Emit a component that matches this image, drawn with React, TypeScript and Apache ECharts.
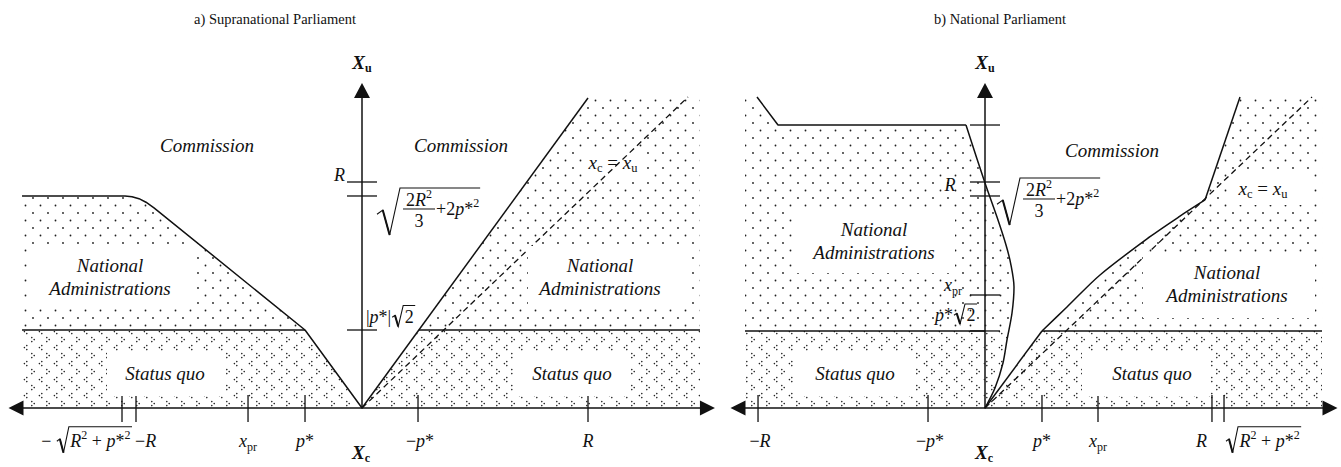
import React, { useEffect, useRef } from 'react';
import * as echarts from 'echarts';

type Pt = [number, number];
type Tok = [string, string];

const SERIF = '"Liberation Serif", "Times New Roman", Times, serif';
const INK = '#111111';
const UNIT = 57.1; // pixels per |p*| on both axes

// ---------- a) Supranational Parliament (x_c across, x_u up, in units of |p*|) ----------
const aLevel = 1.366; // |p*|√2
const aLeftEdge = -5.954;
const aRightEdge = 5.919;
const aTop = 5.43;
const aPlateau: Pt[] = [[-5.954, 3.713], [-4.151, 3.713]];
const aBend: Pt[] = [[-4.151, 3.713], [-4.028, 3.701], [-3.905, 3.666], [-3.783, 3.604], [-3.643, 3.506], [-0.998, 1.366], [0, 0]];
const aCommissionRay: Pt[] = [[0, 0], [3.958, 5.43]];
const aDiagonal: Pt[] = [[0, 0], [5.71, 5.447]];
const aXTicks = [-4.203, -3.958, -1.996, -0.998, 0.981, 3.958];
const aYTicks = [3.958, 3.713, 1.366];

// ---------- b) National Parliament ----------
const bLevel = 1.349; // p*√2
const bLeftEdge = -4.203;
const bRightEdge = 5.902;
const bTop = 5.447;
const bNationalTop: Pt[] = [[-3.993, 5.447], [-3.625, 4.956], [-0.333, 4.956]];
const bNationalBulge: Pt[] = [[-0.333, 4.956], [0, 3.94], [0.21, 3.345], [0.368, 2.855], [0.455, 2.504], [0.508, 2.119], [0.473, 1.664], [0.385, 1.191], [0.315, 0.788], [0.175, 0.35], [0, 0]];
const bCommissionLow: Pt[] = [[0, 0], [0.998, 1.349]];
const bCommissionCurve: Pt[] = [[0.998, 1.349], [1.436, 1.769], [2.014, 2.33], [2.89, 3.0], [3.415, 3.36], [3.853, 3.643]];
const bCommissionHigh: Pt[] = [[3.853, 3.643], [4.466, 5.447]];
const bDiagonal: Pt[] = [[0, 0], [5.727, 5.447]];
const bXTicks = [-3.975, -0.998, 0.998, 1.979, 3.975, 4.186];
const bYTicks = [4.956, 3.958, 3.713, 1.979, 1.349];

// ---------- tick label texts ----------
const R2P2: Tok[] = [['i', 'R'], ['sup', '2'], ['r', ' + '], ['i', 'p'], ['r', '*'], ['sup', '2']];
const aXTickLabels: any[] = [
  { prefix: [['r', '− ']], root: R2P2 },
  { text: [['r', '−'], ['i', 'R']] },
  { text: [['i', 'x'], ['sub', 'pr']] },
  { text: [['i', 'p'], ['r', '*']] },
  { text: [['r', '−'], ['i', 'p'], ['r', '*']] },
  { text: [['i', 'R']] },
];
const aYTickLabels: any[] = [
  { text: [['i', 'R']] },
  { frac: true },
  { prefix: [['r', '|'], ['i', 'p'], ['r', '*|']], root: [['r', '2']] },
];
const bXTickLabels: any[] = [
  { text: [['r', '−'], ['i', 'R']] },
  { text: [['r', '−'], ['i', 'p'], ['r', '*']] },
  { text: [['i', 'p'], ['r', '*']] },
  { text: [['i', 'x'], ['sub', 'pr']] },
  { text: [['i', 'R']] },
  { root: R2P2 },
];
const bYTickLabels: any[] = [
  null,
  { text: [['i', 'R']] },
  { frac: true },
  { text: [['i', 'x'], ['sub', 'pr']] },
  { prefix: [['i', 'p'], ['r', '*']], root: [['r', '2']] },
];

// ---------- label placement (pixel offsets from the tick) ----------
const aXPlace = [
  { align: 'right', dx: 10, dy: 33 },
  { align: 'left', dx: -1, dy: 33 },
  { align: 'center', dx: 0, dy: 33 },
  { align: 'center', dx: 0, dy: 33 },
  { align: 'center', dx: 2, dy: 33 },
  { align: 'center', dx: 0, dy: 33 },
];
const aYPlace = [
  { align: 'right', dx: -17, dy: -7 },
  { align: 'left', dx: 38, dy: -8 },
  { align: 'left', dx: 4, dy: -13, rootSize: [11, 21] },
];
const bXPlace = [
  { align: 'center', dx: 2, dy: 33 },
  { align: 'center', dx: 2, dy: 33 },
  { align: 'center', dx: 0, dy: 33 },
  { align: 'center', dx: 0, dy: 33 },
  { align: 'right', dx: -5, dy: 33 },
  { align: 'left', dx: 2, dy: 33 },
];
const bYPlace = [
  null,
  { align: 'center', dx: -35, dy: 3 },
  { align: 'left', dx: 35, dy: -18 },
  { align: 'right', dx: -23, dy: -10 },
  { align: 'right', dx: -8, dy: -16, rootSize: [11, 20] },
];

const PANELS = [
  { ox: 362, oy: 408, xMin: -6.06, xMax: 6.05, yMax: 5.56, title: 'a) Supranational Parliament', titleX: 275 },
  { ox: 985, oy: 408, xMin: -4.326, xMax: 6.042, yMax: 5.56, title: 'b) National Parliament', titleX: 1000 },
];

const RICH: any = {
  r: { fontFamily: SERIF, fontSize: 18, lineHeight: 24, fill: INK },
  i: { fontFamily: SERIF, fontSize: 18, fontStyle: 'italic', lineHeight: 24, fill: INK },
  sub: { fontFamily: SERIF, fontSize: 12, verticalAlign: 'bottom', fill: INK },
  sup: { fontFamily: SERIF, fontSize: 12, verticalAlign: 'top', fill: INK },
  bx: { fontFamily: SERIF, fontSize: 19, fontStyle: 'italic', fontWeight: 'bold', lineHeight: 24, fill: INK },
  bsub: { fontFamily: SERIF, fontSize: 12, fontWeight: 'bold', verticalAlign: 'bottom', fill: INK },
  li: { fontFamily: SERIF, fontSize: 19, fontStyle: 'italic', lineHeight: 24, fill: INK },
  lr: { fontFamily: SERIF, fontSize: 19, lineHeight: 24, fill: INK },
  lsub: { fontFamily: SERIF, fontSize: 12.5, verticalAlign: 'bottom', fill: INK },
};

let measureCtx: CanvasRenderingContext2D | null = null;
function measure(tokens: Tok[]): number {
  if (!measureCtx) measureCtx = document.createElement('canvas').getContext('2d');
  let w = 0;
  for (const [s, t] of tokens) {
    const st = RICH[s];
    measureCtx!.font = `${st.fontStyle || 'normal'} ${st.fontWeight || 'normal'} ${st.fontSize}px ${st.fontFamily}`;
    w += measureCtx!.measureText(t).width;
  }
  return w;
}

function txt(tokens: Tok[], x: number, y: number, align: string, z?: number) {
  const el: any = {
    type: 'text',
    x,
    y,
    silent: true,
    style: {
      text: tokens.map(([s, t]) => `{${s}|${t}}`).join(''),
      rich: RICH,
      fill: INK,
      fontFamily: SERIF,
      fontSize: 18,
      align,
      verticalAlign: 'middle',
      textAlign: align,
      textVerticalAlign: 'middle',
    },
  };
  if (z != null) el.z = z;
  return el;
}

function radical(x: number, top: number, w: number, h: number, len: number) {
  return [
    {
      type: 'polyline',
      shape: { points: [[x, top + 0.56 * h], [x + 0.25 * w, top + 0.47 * h], [x + 0.55 * w, top + h], [x + w, top], [x + len, top]] },
      style: { stroke: INK, lineWidth: 1.1, fill: 'none' },
    },
    {
      type: 'line',
      shape: { x1: x + 0.25 * w, y1: top + 0.47 * h, x2: x + 0.55 * w, y2: top + h },
      style: { stroke: INK, lineWidth: 2, fill: 'none' },
    },
  ];
}

function fracLabel(ox: number, oy: number) {
  const num: Tok[] = [['r', '2'], ['i', 'R'], ['sup', '2']];
  const tail: Tok[] = [['r', '+2'], ['i', 'p'], ['r', '*'], ['sup', '2']];
  const len = 36 + measure(tail) + 1;
  return [
    ...radical(ox - 23, oy, 23, 47, 23 + len),
    txt(num, ox + 19, oy + 12, 'center'),
    { type: 'line', shape: { x1: ox + 3, y1: oy + 21, x2: ox + 35, y2: oy + 21 }, style: { stroke: INK, lineWidth: 1, fill: 'none' } },
    txt([['r', '3']], ox + 19, oy + 33, 'center'),
    txt(tail, ox + 36, oy + 21, 'left'),
  ];
}

function buildLabel(lab: any, pl: any, ax: number, ay: number): any[] {
  if (!lab || !pl) return [];
  const cx = ax + pl.dx;
  const cy = ay + pl.dy;
  if (lab.frac) return fracLabel(cx, cy);
  if (lab.text) return [txt(lab.text, cx, cy, pl.align)];
  const [rw, rh] = pl.rootSize || [12, 26];
  const preW = lab.prefix ? measure(lab.prefix) + 1 : 0;
  const inW = measure(lab.root);
  const total = preW + rw + inW + 3;
  const x0 = pl.align === 'left' ? cx : pl.align === 'right' ? cx - total : cx - total / 2;
  const els: any[] = [];
  if (lab.prefix) els.push(txt(lab.prefix, x0, cy, 'left'));
  const rx = x0 + preW;
  els.push(...radical(rx, cy - rh * 0.55, rw, rh, rw + inW + 3));
  els.push(txt(lab.root, rx + rw + 1.5, cy, 'left'));
  return els;
}

function crossAt(curve: Pt[], level: number): Pt {
  for (let k = 0; k < curve.length - 1; k++) {
    const [x0, y0] = curve[k];
    const [x1, y1] = curve[k + 1];
    if ((y0 - level) * (y1 - level) <= 0 && y0 !== y1) {
      const t = (level - y0) / (y1 - y0);
      return [x0 + t * (x1 - x0), level];
    }
  }
  return curve[curve.length - 1];
}

function makeTile(w: number, h: number, draw: (g: CanvasRenderingContext2D) => void) {
  const c = document.createElement('canvas');
  c.width = w;
  c.height = h;
  draw(c.getContext('2d')!);
  return { image: c.toDataURL(), repeat: 'repeat', imageWidth: w, imageHeight: h };
}

function dot(g: CanvasRenderingContext2D, x: number, y: number, r: number) {
  g.beginPath();
  g.arc(x, y, r, 0, Math.PI * 2);
  g.fill();
}

function buildOption() {
  const dots = makeTile(15, 15, (g) => {
    g.fillStyle = '#1e1e1e';
    dot(g, 3, 3, 0.9);
    dot(g, 10.5, 10.5, 0.9);
  });
  const chevrons = makeTile(15, 16, (g) => {
    g.fillStyle = '#222';
    // ">" then "<" on the next row
    dot(g, 1.8, 1.6, 0.8);
    dot(g, 4.2, 3.6, 0.8);
    dot(g, 1.8, 5.6, 0.8);
    dot(g, 11.8, 9.6, 0.8);
    dot(g, 9.4, 11.6, 0.8);
    dot(g, 11.8, 13.6, 0.8);
  });

  // regions of panel a
  const aCross = crossAt(aCommissionRay, aLevel);
  const aBendCross = crossAt(aBend, aLevel);
  const aRegions = [
    { fill: dots, pts: [[aLeftEdge, aLevel], ...aPlateau, ...aBend.slice(1).filter((p) => p[1] >= aLevel)] },
    { fill: chevrons, pts: [[aLeftEdge, 0], [aLeftEdge, aLevel], ...aBend.filter((p) => p[1] <= aLevel)] },
    { fill: dots, pts: [aCross, aCommissionRay[1], [aRightEdge, aTop], [aRightEdge, aLevel]] },
    { fill: chevrons, pts: [[0, 0], aCross, [aRightEdge, aLevel], [aRightEdge, 0]] },
  ];
  // regions of panel b
  const bCross = crossAt(bNationalBulge, bLevel);
  const bRegions = [
    {
      fill: dots,
      pts: [[bLeftEdge, bLevel], [bLeftEdge, bTop], ...bNationalTop, ...bNationalBulge.slice(1).filter((p) => p[1] >= bLevel), bCross],
    },
    { fill: chevrons, pts: [[bLeftEdge, 0], [bLeftEdge, bLevel], bCross, ...bNationalBulge.filter((p) => p[1] < bLevel)] },
    { fill: dots, pts: [...bCommissionCurve, bCommissionHigh[1], [bRightEdge, bTop], [bRightEdge, bLevel]] },
    { fill: chevrons, pts: [[0, 0], bCommissionLow[1], [bRightEdge, bLevel], [bRightEdge, 0]] },
  ];

  const regionSeries = (grid: number, regions: any[]) => ({
    type: 'custom',
    coordinateSystem: 'cartesian2d',
    xAxisIndex: grid,
    yAxisIndex: grid,
    z: 1,
    silent: true,
    clip: false,
    data: regions.map((_, k) => [0, 0, k]),
    renderItem: (params: any, api: any) => {
      const r = regions[params.dataIndex];
      return {
        type: 'polygon',
        shape: { points: r.pts.map((p: Pt) => api.coord(p)) },
        style: { fill: r.fill, stroke: 'none' },
      };
    },
  });

  const path = (grid: number, data: Pt[], opts: any = {}) => ({
    type: 'line',
    xAxisIndex: grid,
    yAxisIndex: grid,
    data,
    symbol: 'none',
    showSymbol: false,
    silent: true,
    z: 3,
    smooth: opts.smooth || false,
    lineStyle: { color: INK, width: opts.width || 1.5, type: opts.dashed ? [6, 4] : 'solid' },
    emphasis: { disabled: true },
  });

  const tickSeries = (grid: number, dir: 'x' | 'y', ticks: number[], labels: any[], places: any[]) => ({
    type: 'custom',
    coordinateSystem: 'cartesian2d',
    xAxisIndex: grid,
    yAxisIndex: grid,
    z: 4,
    silent: true,
    clip: false,
    data: ticks.map((v) => (dir === 'x' ? [v, 0] : [0, v])),
    renderItem: (params: any, api: any) => {
      const i = params.dataIndex;
      const p = api.coord([api.value(0), api.value(1)]);
      const mark =
        dir === 'x'
          ? { type: 'line', shape: { x1: p[0], y1: p[1] - 13, x2: p[0], y2: p[1] + 14 }, style: { stroke: INK, lineWidth: 1.3, fill: 'none' } }
          : { type: 'line', shape: { x1: p[0] - 15, y1: p[1], x2: p[0] + 15, y2: p[1] }, style: { stroke: INK, lineWidth: 1.3, fill: 'none' } };
      return { type: 'group', children: [mark, ...buildLabel(labels[i], places[i], p[0], p[1])] };
    },
  });

  const series: any[] = [
    regionSeries(0, aRegions),
    regionSeries(1, bRegions),
    // panel a frontiers
    path(0, aPlateau),
    path(0, aBend),
    path(0, aCommissionRay),
    path(0, aDiagonal, { dashed: true, width: 1.3 }),
    path(0, [[aLeftEdge, aLevel], aBendCross]),
    path(0, [aCross, [aRightEdge, aLevel]]),
    // panel b frontiers
    path(1, bNationalTop),
    path(1, bNationalBulge, { smooth: 0.3 }),
    path(1, bCommissionLow),
    path(1, bCommissionCurve, { smooth: 0.3 }),
    path(1, bCommissionHigh),
    path(1, bDiagonal, { dashed: true, width: 1.3 }),
    path(1, [[bLeftEdge, bLevel], [0, bLevel]]),
    path(1, [bCommissionLow[1], [bRightEdge, bLevel]]),
    // ticks and their labels
    tickSeries(0, 'x', aXTicks, aXTickLabels, aXPlace),
    tickSeries(0, 'y', aYTicks, aYTickLabels, aYPlace),
    tickSeries(1, 'x', bXTicks, bXTickLabels, bXPlace),
    tickSeries(1, 'y', bYTicks, bYTickLabels, bYPlace),
  ];

  // free-standing annotations
  const regionFont = { fontFamily: SERIF, fontSize: 19, fontStyle: 'italic', fill: INK, align: 'center', verticalAlign: 'middle', textAlign: 'center', textVerticalAlign: 'middle', lineHeight: 23 };
  const REGION_LABELS = [
    { text: 'Commission', at: [207, 145] },
    { text: 'Commission', at: [461, 145] },
    { text: 'Commission', at: [1112, 150] },
    { text: 'National\nAdministrations', at: [110, 277], box: [30, 246, 192, 306] },
    { text: 'National\nAdministrations', at: [600, 277], box: [528, 246, 688, 306] },
    { text: 'National\nAdministrations', at: [874, 241], box: [792, 210, 955, 273] },
    { text: 'National\nAdministrations', at: [1227, 284], box: [1143, 252, 1315, 318] },
    { text: 'Status quo', at: [165, 373], box: [107, 352, 223, 396] },
    { text: 'Status quo', at: [572, 373], box: [513, 352, 630, 396] },
    { text: 'Status quo', at: [855, 373], box: [793, 352, 914, 396] },
    { text: 'Status quo', at: [1152, 373], box: [1082, 352, 1211, 396] },
  ];
  const DIAG_LABELS = [
    { at: [613, 162], box: [583, 150, 647, 177] },
    { at: [1263, 188], box: [1230, 173, 1313, 205] },
  ];
  const diagTokens: Tok[] = [['li', 'x'], ['lsub', 'c'], ['lr', ' = '], ['li', 'x'], ['lsub', 'u']];

  const graphic: any[] = [];
  for (const L of REGION_LABELS) {
    if (L.box) {
      const [x0, y0, x1, y1] = L.box;
      graphic.push({ type: 'rect', z: 10, silent: true, shape: { x: x0, y: y0, width: x1 - x0, height: y1 - y0 }, style: { fill: '#fff' } });
    }
    graphic.push({ type: 'text', z: 11, silent: true, x: L.at[0], y: L.at[1], style: { text: L.text, ...regionFont } });
  }
  for (const L of DIAG_LABELS) {
    const [x0, y0, x1, y1] = L.box;
    graphic.push({ type: 'rect', z: 2, silent: true, shape: { x: x0, y: y0, width: x1 - x0, height: y1 - y0 }, style: { fill: '#fff' } });
    graphic.push(txt(diagTokens, L.at[0], L.at[1], 'center', 11));
  }
  for (const P of PANELS) {
    graphic.push({
      type: 'text',
      z: 11,
      silent: true,
      x: P.titleX,
      y: 19,
      style: { text: P.title, fontFamily: SERIF, fontSize: 14.5, fill: INK, align: 'center', verticalAlign: 'middle', textAlign: 'center', textVerticalAlign: 'middle' },
    });
    graphic.push(txt([['bx', 'X'], ['bsub', 'u']], P.ox, 62, 'center', 11));
    graphic.push(txt([['bx', 'X'], ['bsub', 'c']], P.ox - 1, 452, 'center', 11));
  }

  const axisLine = (symbol: string[], size: number[]) => ({
    show: true,
    onZero: true,
    symbol,
    symbolSize: size,
    lineStyle: { color: INK, width: 1.5 },
  });

  return {
    animation: false,
    backgroundColor: '#fff',
    grid: PANELS.map((p) => ({
      left: p.ox + p.xMin * UNIT,
      top: p.oy - p.yMax * UNIT,
      width: (p.xMax - p.xMin) * UNIT,
      height: p.yMax * UNIT,
      containLabel: false,
    })),
    xAxis: PANELS.map((p, i) => ({
      type: 'value',
      gridIndex: i,
      min: p.xMin,
      max: p.xMax,
      axisLine: axisLine(['triangle', 'triangle'], [15, 15]),
      axisTick: { show: false },
      axisLabel: { show: false },
      splitLine: { show: false },
    })),
    yAxis: PANELS.map((p, i) => ({
      type: 'value',
      gridIndex: i,
      min: 0,
      max: p.yMax,
      axisLine: axisLine(['none', 'triangle'], [16, 15]),
      axisTick: { show: false },
      axisLabel: { show: false },
      splitLine: { show: false },
    })),
    series,
    graphic: { elements: graphic },
  };
}

export default function App() {
  const ref = useRef<HTMLDivElement>(null);
  useEffect(() => {
    const chart = echarts.init(ref.current!, undefined, { renderer: 'svg' });
    chart.setOption(buildOption() as any);
    return () => chart.dispose();
  }, []);
  return (
    <div
      ref={ref}
      style={{ position: 'fixed', left: 0, top: 0, width: 1341, height: 467, background: '#fff' }}
    />
  );
}
